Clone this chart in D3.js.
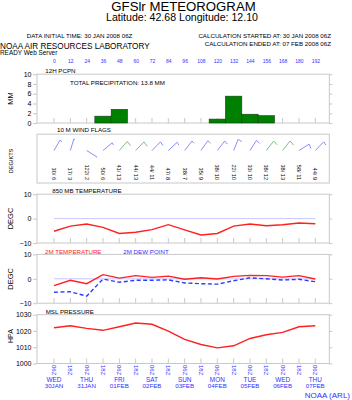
<!DOCTYPE html>
<html>
<head>
<meta charset="utf-8">
<script src="https://cdn.jsdelivr.net/npm/d3@7"></script>
<style>
  body { margin: 0; background: #fff; }
  text { font-family: "Liberation Sans", Arial, sans-serif; }
</style>
</head>
<body>
<div id="canvas"></div>
<script>
"use strict"

/* data, one value per 12 h forecast step */
let hours = [0, 12, 24, 36, 48, 60, 72, 84, 96, 108, 120, 132, 144, 156, 168, 180, 192];
let precip = [0, 0, 0, 1.4, 2.8, 0, 0, 0, 0, 0, 0.8, 5.5, 1.8, 1.5, 0, 0, 0];
let windDir = [30, 17, 122, 50, 41, 44, 44, 47, 38, 35, 38, 22, 33, 38, 38, 58, 44];
let windSpd = [6, 3, 2, 6, 13, 13, 11, 8, 7, 9, 10, 10, 10, 12, 13, 11, 9];
let t850 = [-5.2, -3.1, -2.2, -3.6, -6.1, -5.6, -4.5, -2.5, -4.6, -6.7, -6.1, -3.1, -2.2, -2.9, -2.5, -1.8, -2.1];
let t2m = [-2.8, -0.6, -2.0, 1.7, 0.3, 1.3, 0.6, 1.1, -0.2, 0.4, -0.1, 1.0, 1.4, 1.3, 0.7, 1.3, -0.1];
let td2m = [-5.5, -5.3, -7.1, -0.1, -1.4, -0.6, -0.6, -0.4, -1.7, -2.0, -2.2, -0.8, 0.4, 0.0, -0.5, -0.2, -1.2];
let mslp = [1022.0, 1023.2, 1021.6, 1020.4, 1022.6, 1024.9, 1024.1, 1019.9, 1014.8, 1011.7, 1009.6, 1010.9, 1015.4, 1017.7, 1019.1, 1022.6, 1023.2];

let utcLabels = ["06Z", "18Z", "06Z", "18Z", "06Z", "18Z", "06Z", "18Z", "06Z", "18Z", "06Z", "18Z", "06Z", "18Z", "06Z", "18Z", "06Z"];
let dayHours = [0, 24, 48, 72, 96, 120, 144, 168, 192];
let dayNames = ["WED", "THU", "FRI", "SAT", "SUN", "MON", "TUE", "WED", "THU"];
let dayDates = ["30JAN", "31JAN", "01FEB", "02FEB", "03FEB", "04FEB", "05FEB", "06FEB", "07FEB"];

let precipTicks = [0, 2, 4, 6, 8, 10];
let tempTicks = [-10, 0, 10];
let presTicks = [1000, 1010, 1020, 1030];

let drawing = d3.select("#canvas")
    .append("svg")
    .attr("width", 352)
    .attr("height", 400);

let x = d3.scaleLinear().domain([0, 192]).range([54, 315.3]);
let frameLeft = x(-12.5);
let frameRight = x(202.3);

let panelTops = [74.2, 134.2, 194.2, 254.4, 314.7];
let panelH = 48.8;

let gray = "#c8c8c8";
let blueText = "#3030ff";

/* header */
drawing.append("text").attr("x", 183.5).attr("y", 11).attr("text-anchor", "middle")
    .attr("font-size", 13.2).text("GFSlr METEOROGRAM");
drawing.append("text").attr("x", 182).attr("y", 21).attr("text-anchor", "middle")
    .attr("font-size", 10.6).text("Latitude: 42.68 Longitude:  12.10");
drawing.append("text").attr("x", 26.7).attr("y", 38).attr("font-size", 6.2)
    .text("DATA INITIAL TIME: 30 JAN 2008 06Z");
drawing.append("text").attr("x", 331).attr("y", 38).attr("text-anchor", "end").attr("font-size", 6.2)
    .text("CALCULATION STARTED AT: 30 JAN 2008 06Z");
drawing.append("text").attr("x", 331).attr("y", 45.5).attr("text-anchor", "end").attr("font-size", 6.2)
    .text("CALCULATION ENDED AT: 07 FEB 2008 06Z");
drawing.append("text").attr("x", 0).attr("y", 49).attr("font-size", 8.2)
    .text("NOAA AIR RESOURCES LABORATORY");
drawing.append("text").attr("x", 0).attr("y", 54.8).attr("font-size", 6.4)
    .text("READY Web Server");

/* hour labels above the panels */
let topAxis = drawing.append("g")
    .attr("transform", "translate(0,64)")
    .call(d3.axisTop(x).tickValues(hours).tickSize(0).tickPadding(1));
topAxis.select(".domain").remove();
topAxis.selectAll("text").attr("font-size", 5).attr("fill", blueText).style("font-family", "Liberation Sans, Arial");

/* frames, bottom ticks */
panelTops.forEach(function (top, i) {
    drawing.append("rect")
        .attr("x", frameLeft).attr("y", top)
        .attr("width", frameRight - frameLeft).attr("height", panelH)
        .attr("fill", "none").attr("stroke", gray).attr("stroke-width", 1);
    if (i !== 1) {
        drawing.append("g").selectAll("line").data(hours).join("line")
            .attr("x1", d => x(d)).attr("x2", d => x(d))
            .attr("y1", top + panelH).attr("y2", top + panelH - 5)
            .attr("stroke", gray);
    }
});

function yAxis(scale, ticks) {
    let g = drawing.append("g")
        .attr("transform", "translate(" + frameLeft + ",0)")
        .call(d3.axisLeft(scale).tickValues(ticks).tickSize(4).tickPadding(1.5)
            .tickSizeOuter(0).tickFormat(d3.format("d")));
    g.select(".domain").remove();
    g.selectAll("line").attr("stroke", gray);
    g.selectAll("text").attr("font-size", 7).attr("fill", "#000").style("font-family", "Liberation Sans, Arial");
    let r = drawing.append("g")
        .attr("transform", "translate(" + frameRight + ",0)")
        .call(d3.axisRight(scale).tickValues(ticks).tickSize(3).tickFormat(""));
    r.select(".domain").remove();
    r.selectAll("line").attr("stroke", gray);
}

function yTitle(label, cy, size) {
    drawing.append("text")
        .attr("transform", "translate(13.3," + cy + ") rotate(-90)")
        .attr("text-anchor", "middle").attr("font-size", size).text(label);
}

/* panel 1: precipitation */
let yP = d3.scaleLinear().domain([0, 10]).range([panelTops[0] + panelH, panelTops[0]]);
yAxis(yP, precipTicks);
yTitle("MM", 98.5, 7.5);
drawing.append("g").selectAll("rect").data(precip).join("rect")
    .attr("x", (d, i) => x(hours[i] - 6))
    .attr("width", x(12) - x(0))
    .attr("y", d => yP(d))
    .attr("height", d => yP(0) - yP(d))
    .attr("fill", "#008000")
    .attr("stroke", "#1a3a1a").attr("stroke-width", 0.6);
drawing.append("text").attr("x", 45.3).attr("y", 73.2).attr("font-size", 6.2).text("12H PCPN");
drawing.append("text").attr("x", 70).attr("y", 85.2).attr("font-size", 6.2)
    .text("TOTAL PRECIPITATION:  " + d3.sum(precip).toFixed(1) + " MM");

/* panel 2: wind flags */
yTitle("DEG/KTS", 161, 5.6);
drawing.append("text").attr("x", 57).attr("y", 132.3).attr("font-size", 6.2).text("10 M  WIND FLAGS");
let staff = 12;
let barbBase = 150.5;
hours.forEach(function (h, i) {
    let a = windDir[i] * Math.PI / 180;
    let bx = x(h), by = barbBase;
    let tx = bx + staff * Math.sin(a), ty = by - staff * Math.cos(a);
    let fl = windSpd[i] * 0.42;
    let fa = a + 100 * Math.PI / 180;
    let col = windSpd[i] >= 12 ? "#7fbf7f" : "#8c8cff";
    drawing.append("polyline")
        .attr("points", [[bx, by], [tx, ty], [tx + fl * Math.sin(fa), ty - fl * Math.cos(fa)]].join(" "))
        .attr("fill", "none").attr("stroke", col).attr("stroke-width", 1);
    drawing.append("text")
        .attr("transform", "translate(" + (bx - 2) + ",180) rotate(90)")
        .attr("text-anchor", "end").attr("font-size", 5.6)
        .text(windDir[i] + "/ " + windSpd[i]);
});

/* panel 3: 850 mb temperature */
let yT = d3.scaleLinear().domain([-10, 10]).range([panelTops[2] + panelH, panelTops[2]]);
yAxis(yT, tempTicks);
yTitle("DEGC", 218.5, 7.5);
drawing.append("text").attr("x", 52.3).attr("y", 193.2).attr("font-size", 6.2).text("850 MB  TEMPERATURE");
drawing.append("line").attr("x1", x(0)).attr("x2", x(192)).attr("y1", yT(0)).attr("y2", yT(0))
    .attr("stroke", "#b8b8ff").attr("stroke-width", 0.8);
let line850 = d3.line().x((d, i) => x(hours[i])).y(d => yT(d));
drawing.append("path").attr("d", line850(t850))
    .attr("fill", "none").attr("stroke", "#ff2020").attr("stroke-width", 1.4);

/* panel 4: 2 m temperature and dew point */
let y2 = d3.scaleLinear().domain([-10, 10]).range([panelTops[3] + panelH, panelTops[3]]);
yAxis(y2, tempTicks);
yTitle("DEGC", 278.8, 7.5);
drawing.append("text").attr("x", 45).attr("y", 253.8).attr("font-size", 6.2).attr("fill", "#ff2020").text("2M TEMPERATURE");
drawing.append("text").attr("x", 123.3).attr("y", 253.8).attr("font-size", 6.2).attr("fill", blueText).text("2M  DEW POINT");
drawing.append("line").attr("x1", x(0)).attr("x2", x(192)).attr("y1", y2(0)).attr("y2", y2(0))
    .attr("stroke", "#b8b8ff").attr("stroke-width", 0.8);
let line2 = d3.line().x((d, i) => x(hours[i])).y(d => y2(d));
drawing.append("path").attr("d", line2(td2m))
    .attr("fill", "none").attr("stroke", "#2a3cff").attr("stroke-width", 1.4)
    .attr("stroke-dasharray", "4,2.5");
drawing.append("path").attr("d", line2(t2m))
    .attr("fill", "none").attr("stroke", "#ff2020").attr("stroke-width", 1.4);

/* panel 5: sea level pressure */
let yM = d3.scaleLinear().domain([1000, 1030]).range([panelTops[4] + panelH, panelTops[4]]);
yAxis(yM, presTicks);
yTitle("HPA", 336, 7);
drawing.append("text").attr("x", 45.7).attr("y", 313.8).attr("font-size", 6.2).text("MSL PRESSURE");
let lineM = d3.line().x((d, i) => x(hours[i])).y(d => yM(d));
drawing.append("path").attr("d", lineM(mslp))
    .attr("fill", "none").attr("stroke", "#ff2020").attr("stroke-width", 1.4);

/* time labels under the panels */
drawing.append("g").selectAll("text").data(utcLabels).join("text")
    .attr("transform", (d, i) => "translate(" + (x(hours[i]) - 2) + ",365) rotate(90)")
    .attr("font-size", 6).attr("fill", blueText)
    .text(d => d);
drawing.append("g").selectAll("text").data(dayNames).join("text")
    .attr("x", (d, i) => x(dayHours[i])).attr("y", 382.3)
    .attr("text-anchor", "middle").attr("font-size", 6.4).attr("fill", blueText)
    .text(d => d);
drawing.append("g").selectAll("text").data(dayDates).join("text")
    .attr("x", (d, i) => x(dayHours[i])).attr("y", 387.8)
    .attr("text-anchor", "middle").attr("font-size", 6.2).attr("fill", blueText)
    .text(d => d);
drawing.append("text").attr("x", 350).attr("y", 398).attr("text-anchor", "end")
    .attr("font-size", 8).attr("fill", blueText).text("NOAA (ARL)");
</script>
</body>
</html>
